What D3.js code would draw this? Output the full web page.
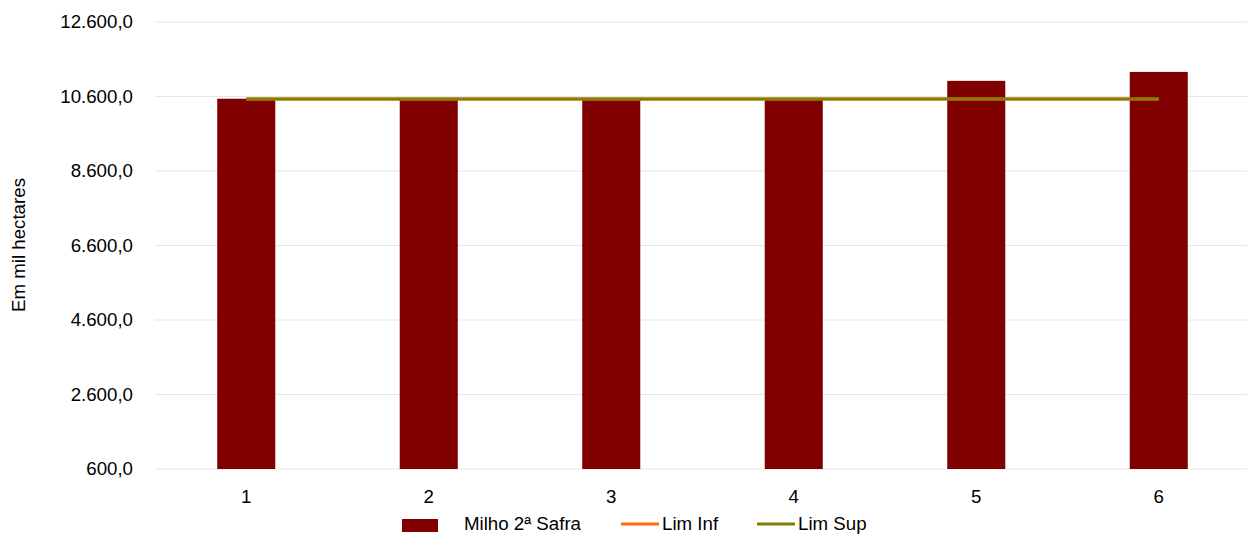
<!DOCTYPE html>
<html><head><meta charset="utf-8">
<script src="https://cdn.jsdelivr.net/npm/d3@7"></script>
<style>body{margin:0;background:#fff}svg{display:block;font-family:"Liberation Sans",Arial,sans-serif}</style>
</head><body><svg id="c" width="1247" height="535"></svg>
<script>
const categories = ["1","2","3","4","5","6"];
const milho = [10540, 10510, 10510, 10510, 11020, 11260];
const limInf = [10530, 10530, 10530, 10530, 10530, 10530];
const limSup = [10530, 10530, 10530, 10530, 10530, 10530];
const yTicks = [600, 2600, 4600, 6600, 8600, 10600, 12600];

const FS = 18.7;
const svg = d3.select("#c");
const x = d3.scaleBand().domain(categories).range([155, 1250]).paddingInner(0.682).paddingOuter(0.341);
const y = d3.scaleLinear().domain([600, 12600]).range([469, 22]);
const fmt = v => d3.format(",.1f")(v).replace(/,/g, "#").replace(".", ",").replace(/#/g, ".");

// grid
svg.append("g").selectAll("line").data(yTicks).join("line")
  .attr("x1", 155).attr("x2", 1247)
  .attr("y1", d => y(d)).attr("y2", d => y(d))
  .attr("stroke", "#e6e6e6").attr("stroke-width", 1);

// y axis labels
const yAxis = d3.axisLeft(y).tickValues(yTicks).tickFormat(fmt).tickSize(0).tickPadding(0);
const gy = svg.append("g").attr("transform", "translate(133,0)").call(yAxis);
gy.select(".domain").remove();
gy.selectAll("text").attr("font-size", FS).attr("fill", "#000").attr("font-family", "Liberation Sans, Arial, sans-serif");

// x axis labels
const xAxis = d3.axisBottom(x).tickSize(0).tickPadding(0);
const gx = svg.append("g").attr("transform", "translate(0,490)").call(xAxis);
gx.select(".domain").remove();
gx.selectAll("text").attr("font-size", FS).attr("fill", "#000").attr("font-family", "Liberation Sans, Arial, sans-serif");

// bars
svg.append("g").selectAll("rect").data(milho).join("rect")
  .attr("x", (d, i) => x(categories[i])).attr("width", x.bandwidth())
  .attr("y", d => y(d)).attr("height", d => y(600) - y(d))
  .attr("fill", "#800000");

const cx = c => x(c) + x.bandwidth() / 2;
const line = d3.line().x((d, i) => cx(categories[i])).y(d => y(d));
svg.append("path").datum(limInf).attr("d", line).attr("fill", "none").attr("stroke", "#ff6a13").attr("stroke-width", 3);
svg.append("path").datum(limSup).attr("d", line).attr("fill", "none").attr("stroke", "#808000").attr("stroke-width", 3);

// y title
svg.append("text").attr("transform", "translate(25,245) rotate(-90)")
  .attr("text-anchor", "middle").attr("font-size", FS).attr("fill", "#000").text("Em mil hectares");

// legend
const lg = svg.append("g");
lg.append("rect").attr("x", 402).attr("y", 519).attr("width", 36).attr("height", 13).attr("fill", "#800000");
lg.append("text").attr("x", 464).attr("y", 530).attr("font-size", FS).text("Milho 2ª Safra");
lg.append("line").attr("x1", 621).attr("x2", 659).attr("y1", 524).attr("y2", 524).attr("stroke", "#ff6a13").attr("stroke-width", 3);
lg.append("text").attr("x", 662).attr("y", 530).attr("font-size", FS).text("Lim Inf");
lg.append("line").attr("x1", 757).attr("x2", 795).attr("y1", 524).attr("y2", 524).attr("stroke", "#808000").attr("stroke-width", 3);
lg.append("text").attr("x", 798).attr("y", 530).attr("font-size", FS).text("Lim Sup");
</script></body></html>
